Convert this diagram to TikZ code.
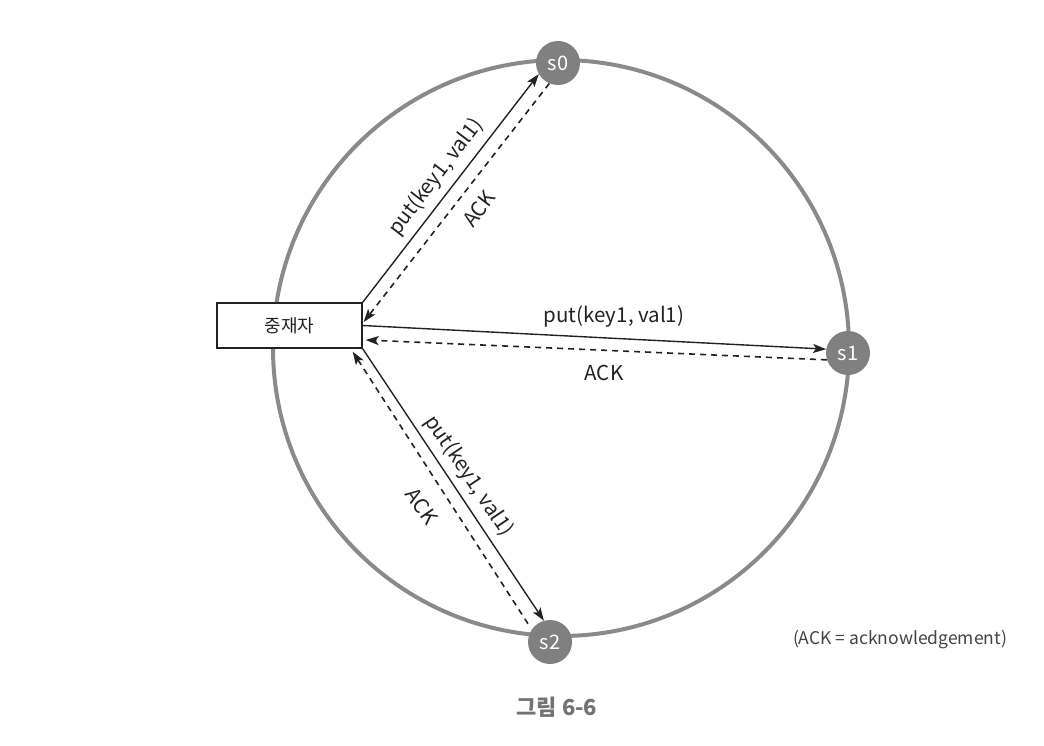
\documentclass[tikz,border=0pt]{standalone}
\usepackage{fontspec}
\setmainfont{Noto Sans CJK KR}
\usetikzlibrary{arrows.meta,calc}
\definecolor{ring}{HTML}{8A8A8A}
\definecolor{srv}{HTML}{808080}
\definecolor{ink}{HTML}{222222}
\begin{document}
\begin{tikzpicture}[x=1pt,y=-1pt,
  server/.style={circle,fill=srv,minimum size=44pt,inner sep=0pt,text=white,font=\fontsize{20}{20}\selectfont},
  mediator/.style={draw=ink,line width=1.4pt,minimum width=145pt,minimum height=45pt,inner sep=0pt,font=\fontsize{18}{18}\selectfont,text=ink},
  req/.style={draw=ink,line width=1.4pt,-{Stealth[length=13pt,width=9pt,inset=3pt]}},
  ack/.style={draw=ink,line width=1.6pt,dash pattern=on 6pt off 5pt,-{Stealth[length=13pt,width=9pt,inset=3pt]}},
  lbl/.style={font=\fontsize{20.5}{20.5}\selectfont,text=ink,inner sep=0pt}]
\useasboundingbox (0,0) rectangle (1044,746);
\node[draw=ring,line width=4pt,circle,minimum size=576pt,inner sep=0pt] (ringc) at (561,348) {};
\node[server] (s0) at (558,63) {s0};
\node[server] (s1) at (848,353) {s1};
\node[server] (s2) at (550,642) {s2};
\node[mediator,fill=white] (box) at (289.5,325.5) {중재자};
% to s0
\draw[req] (box.north east) -- (s0.210);
\draw[ack] (s0.247) -- ($(box.east)+(1,-3.5)$);
% to s1
\draw[req] (box.east) -- (s1.170);
\draw[ack] (s1.198) -- ($(box.east)+(3,14.5)$);
% to s2
\draw[req] (box.south east) -- (s2.106);
\draw[ack] ($(s2.140)+(-5,-4)$) -- ($(box.south east)+(-10,3)$);
% labels
\node[lbl,rotate=52.5] (l1) at (436,177) {put(key1, val1)};
\node[lbl,rotate=52.5] (l2) at (479,209) {ACK};
\node[lbl] (l3) at (614,317) {put(key1, val1)};
\node[lbl] (l4) at (604,373) {ACK};
\node[lbl,rotate=-56] (l5) at (469,476) {put(key1, val1)};
\node[lbl,rotate=-56] (l6) at (422,506) {ACK};
\node[font=\fontsize{17.5}{17.5}\selectfont,text=ink!85,inner sep=0pt] (note) at (900,640) {(ACK = acknowledgement)};
\node[font=\fontsize{22}{22}\selectfont\bfseries,text=srv!90!black,inner sep=0pt] (cap) at (557,707) {그림 6-6};
\end{tikzpicture}
\end{document}
